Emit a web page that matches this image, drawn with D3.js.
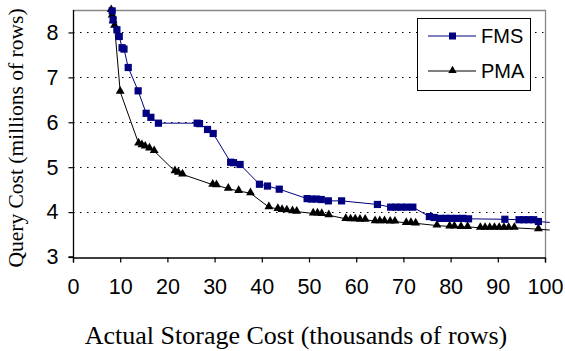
<!DOCTYPE html>
<html>
<head>
<meta charset="utf-8">
<script src="https://cdn.jsdelivr.net/npm/d3@7"></script>
<style>
  html, body { margin: 0; padding: 0; background: #fff; }
  svg { display: block; }
</style>
</head>
<body>
<svg id="chart" width="565" height="351"></svg>
<script>
// Storage (thousands of rows) vs query cost (millions of rows)
const fmsStorage = [8.3, 8.5, 9.3, 9.8, 10.4, 10.8, 11.7, 13.8, 15.5, 16.5, 18.1,
  26.3, 26.8, 28.5, 29.7, 33.4, 34.0, 35.4, 39.5, 41.2, 43.7,
  49.6, 50.5, 51.6, 52.6, 54.1, 56.9, 64.5, 67.3, 68.4, 69.5, 70.7, 72.0,
  75.5, 76.5, 77.8, 79.0, 80.0, 81.3, 82.6, 83.8, 91.5, 94.5, 95.5, 96.5, 97.6, 98.6, 101];
const fmsQuery = [8.48, 8.28, 8.06, 7.91, 7.66, 7.63, 7.22, 6.70, 6.20, 6.11, 5.98,
  5.98, 5.97, 5.84, 5.75, 5.11, 5.10, 5.06, 4.62, 4.58, 4.51,
  4.30, 4.29, 4.29, 4.28, 4.25, 4.25, 4.17, 4.11, 4.11, 4.11, 4.11, 4.11,
  3.90, 3.88, 3.86, 3.86, 3.86, 3.86, 3.86, 3.85, 3.84, 3.83, 3.83, 3.83, 3.83, 3.79, 3.77];

const pmaStorage = [8.1, 8.3, 8.5, 8.8, 10.0, 13.9, 14.6, 15.3, 16.2, 17.2,
  21.6, 22.3, 23.2, 29.6, 30.4, 32.9, 35.1, 37.6,
  41.5, 43.4, 44.3, 45.3, 46.5, 47.4, 50.9, 51.8, 52.7, 54.2,
  57.8, 58.8, 59.8, 60.8, 61.9, 64.0, 65.0, 66.0, 67.2, 68.2,
  70.6, 71.6, 72.6, 77.1, 79.8, 80.8, 82.2, 83.6,
  86.3, 87.3, 88.3, 89.3, 90.3, 91.3, 92.3, 93.5, 98.6, 101];
const pmaQuery = [8.50, 8.38, 8.25, 8.15, 6.68, 5.53, 5.49, 5.46, 5.42, 5.36,
  4.91, 4.88, 4.84, 4.61, 4.60, 4.52, 4.47, 4.42,
  4.11, 4.07, 4.05, 4.04, 4.02, 4.01, 3.97, 3.97, 3.96, 3.93,
  3.85, 3.84, 3.84, 3.83, 3.83, 3.80, 3.80, 3.80, 3.79, 3.79,
  3.76, 3.76, 3.75, 3.70, 3.68, 3.68, 3.67, 3.67,
  3.65, 3.65, 3.65, 3.65, 3.65, 3.65, 3.65, 3.65, 3.62, 3.60];

const xTicks = [0, 10, 20, 30, 40, 50, 60, 70, 80, 90, 100];
const yTicks = [3, 4, 5, 6, 7, 8];
const seriesNames = ["FMS", "PMA"];

const svg = d3.select("#chart");
const plotL = 73, plotR = 545, plotT = 10, plotB = 257;

const x = d3.scaleLinear().domain([0, 100]).range([plotL, plotR]);
const y = d3.scaleLinear().domain([3, 8.5]).range([plotB, plotT]);

// horizontal dotted gridlines
svg.append("g").selectAll("line")
  .data(yTicks.filter(v => v > 3))
  .join("line")
  .attr("x1", plotL).attr("x2", plotR)
  .attr("y1", d => Math.round(y(d)) + 0.5).attr("y2", d => Math.round(y(d)) + 0.5)
  .attr("stroke", "#000").attr("stroke-width", 1.2)
  .attr("stroke-dasharray", "1.5,5.5");

// plot frame (top/right in gray)
svg.append("path")
  .attr("d", `M${plotL},${plotT + 0.5}H${plotR + 0.5}V${plotB}`)
  .attr("fill", "none").attr("stroke", "#888").attr("stroke-width", 1.3);

// axes
const xAxis = svg.append("g")
  .attr("transform", `translate(0,${plotB + 0.5})`)
  .call(d3.axisBottom(x).tickValues(xTicks).tickSize(5).tickPadding(16).tickFormat(d3.format("d")));
const yAxis = svg.append("g")
  .attr("transform", `translate(${plotL + 0.5},0)`)
  .call(d3.axisLeft(y).tickValues(yTicks).tickSize(5).tickPadding(10).tickFormat(d3.format("d")));
[xAxis, yAxis].forEach(g => {
  g.select(".domain").attr("stroke", "#000").attr("stroke-width", 1.3);
  g.selectAll(".tick line").attr("stroke", "#000").attr("stroke-width", 1.2);
  g.selectAll("text").attr("font-family", "Liberation Sans, Arial, sans-serif")
    .attr("font-size", 21.5).attr("fill", "#000");
});
yAxis.select(".domain").attr("d", `M-5,${y(3)}H0V${plotT}`);

// series
const fms = fmsStorage.map((v, i) => [v, fmsQuery[i]]);
const pma = pmaStorage.map((v, i) => [v, pmaQuery[i]]);
const line = d3.line().x(d => x(d[0])).y(d => y(d[1]));

svg.append("path").datum(pma).attr("d", line)
  .attr("fill", "none").attr("stroke", "#000").attr("stroke-width", 1);
svg.append("path").datum(fms).attr("d", line)
  .attr("fill", "none").attr("stroke", "#000080").attr("stroke-width", 1);

const tri = d3.symbol().type(d3.symbolTriangle).size(34);
svg.append("g").selectAll("path")
  .data(pma.filter(d => d[0] <= 100))
  .join("path")
  .attr("d", tri)
  .attr("transform", d => `translate(${x(d[0])},${y(d[1]) - 0.5})`)
  .attr("fill", "#000");

svg.append("g").selectAll("rect")
  .data(fms.filter(d => d[0] <= 100))
  .join("rect")
  .attr("x", d => x(d[0]) - 3.6).attr("y", d => y(d[1]) - 3.6)
  .attr("width", 7.2).attr("height", 7.2)
  .attr("fill", "#000080");

// legend
const lg = svg.append("g");
lg.append("rect").attr("x", 417.5).attr("y", 18.5).attr("width", 113).attr("height", 72)
  .attr("fill", "#fff").attr("stroke", "#000").attr("stroke-width", 1);
const legendRows = [
  { name: seriesNames[0], color: "#000080", y: 36, mark: "square" },
  { name: seriesNames[1], color: "#000", y: 71, mark: "triangle" }
];
legendRows.forEach(r => {
  lg.append("line").attr("x1", 428).attr("x2", 476).attr("y1", r.y).attr("y2", r.y)
    .attr("stroke", r.color).attr("stroke-width", 1);
  if (r.mark === "square") {
    lg.append("rect").attr("x", 449).attr("y", r.y - 3.5).attr("width", 7).attr("height", 7)
      .attr("fill", r.color);
  } else {
    lg.append("path").attr("d", d3.symbol().type(d3.symbolTriangle).size(30))
      .attr("transform", `translate(452.5,${r.y - 0.5})`).attr("fill", r.color);
  }
  lg.append("text").attr("x", 481).attr("y", r.y + 7)
    .attr("font-family", "Liberation Sans, Arial, sans-serif").attr("font-size", 20)
    .text(r.name);
});

// axis titles
svg.append("text")
  .attr("x", 296).attr("y", 343.5)
  .attr("text-anchor", "middle")
  .attr("font-family", "Liberation Serif, Times New Roman, serif").attr("font-size", 26)
  .text("Actual Storage Cost (thousands of rows)");
svg.append("text")
  .attr("transform", "translate(23,138) rotate(-90)")
  .attr("text-anchor", "middle")
  .attr("font-family", "Liberation Serif, Times New Roman, serif").attr("font-size", 21.5)
  .text("Query Cost (millions of rows)");
</script>
</body>
</html>
